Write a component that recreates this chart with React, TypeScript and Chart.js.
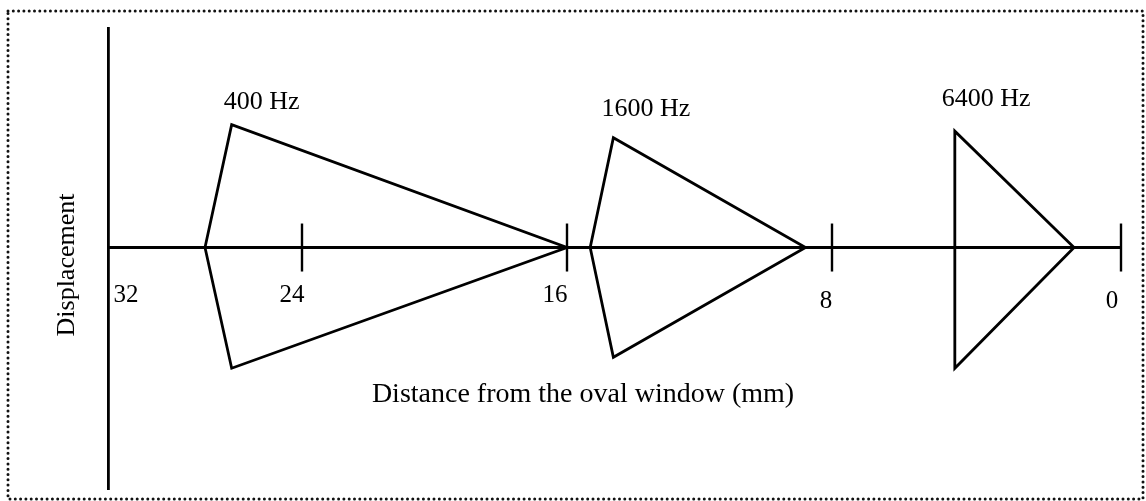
import React, { useEffect, useRef } from "react";
import { Chart, registerables, LinearScale } from "chart.js";

// ---------------- data ----------------
const X_TICK_VALUES = [32, 24, 16, 8, 0];
const X_TICK_LABELS = ["32", "24", "16", "8", "0"];
const X_TITLE = "Distance from the oval window (mm)";
const Y_TITLE = "Displacement";
const FREQ_LABELS = ["400 Hz", "1600 Hz", "6400 Hz"];

// envelope outline of each travelling wave: onset, upper peak, end, lower peak, onset
const WAVE_400_X = [28.0, 26.9, 16.0, 26.9, 28.0];
const WAVE_400_Y = [0, 0.56, 0, -0.55, 0];
const WAVE_1600_X = [15.3, 14.6, 8.8, 14.6, 15.3];
const WAVE_1600_Y = [0, 0.5, 0, -0.5, 0];
const WAVE_6400_X = [4.6, 4.6, 1.3, 4.6, 4.6];
const WAVE_6400_Y = [0, 0.53, 0, -0.55, 0];

// ---------------- layout / style ----------------
// the hand-drawn axis is not uniform: relative spacing between successive ticks
const AXIS_SEGMENT_WEIGHTS = [194, 265, 265, 289];
const TICK_LABEL_DX = [18, -10, -12, -6, -9];
const TICK_LABEL_DY = [54, 54, 54, 60, 60];
const FREQ_LABEL_NUDGE = [
  [-8, -16],
  [-12, -22],
  [-13, -25],
];
const FONT = '"Liberation Serif", "Times New Roman", serif';
const INK = "#000";
const LINE_W = 2.8;

class PiecewiseScale extends LinearScale {
  static id = "piecewise";

  valueToDecimal(v: number): number {
    const total = AXIS_SEGMENT_WEIGHTS.reduce((a, b) => a + b, 0);
    const n = X_TICK_VALUES.length;
    let acc = 0;
    for (let i = 0; i < n - 1; i++) {
      const a = X_TICK_VALUES[i];
      const b = X_TICK_VALUES[i + 1];
      const w = AXIS_SEGMENT_WEIGHTS[i];
      const inSeg = v <= a && v >= b;
      if (inSeg || (i === 0 && v > a) || (i === n - 2 && v < b)) {
        return (acc + ((a - v) / (a - b)) * w) / total;
      }
      acc += w;
    }
    return 0;
  }

  decimalToValue(d: number): number {
    const total = AXIS_SEGMENT_WEIGHTS.reduce((a, b) => a + b, 0);
    const n = X_TICK_VALUES.length;
    let acc = 0;
    const p = d * total;
    for (let i = 0; i < n - 1; i++) {
      const a = X_TICK_VALUES[i];
      const b = X_TICK_VALUES[i + 1];
      const w = AXIS_SEGMENT_WEIGHTS[i];
      if (p <= acc + w || i === n - 2) {
        return a - ((p - acc) / w) * (a - b);
      }
      acc += w;
    }
    return 0;
  }

  getPixelForValue(value: any) {
    if (value === null || value === undefined) return NaN;
    return (this as any).getPixelForDecimal(this.valueToDecimal(+value));
  }

  getValueForPixel(pixel: number) {
    return this.decimalToValue((this as any).getDecimalForPixel(pixel));
  }
}

Chart.register(...registerables);
Chart.register(PiecewiseScale as any);

const toPoints = (xs: number[], ys: number[]) => xs.map((x, i) => ({ x, y: ys[i] }));

const dottedFrame = {
  id: "dottedFrame",
  beforeDraw(chart: any) {
    const ctx = chart.ctx;
    ctx.save();
    ctx.fillStyle = "#fff";
    ctx.fillRect(0, 0, chart.width, chart.height);
    ctx.strokeStyle = "#111";
    ctx.lineWidth = 3;
    ctx.lineCap = "round";
    ctx.setLineDash([0, 5.3]);
    ctx.strokeRect(8, 11, chart.width - 8 - 3, chart.height - 11 - 2);
    ctx.restore();
  },
};

const distanceAxis = {
  id: "distanceAxis",
  afterDatasetsDraw(chart: any) {
    const ctx = chart.ctx;
    const xs = chart.scales.x;
    const ys = chart.scales.y;
    const area = chart.chartArea;
    const y0 = ys.getPixelForValue(0);
    ctx.save();
    ctx.strokeStyle = INK;
    ctx.fillStyle = INK;
    ctx.lineWidth = LINE_W;
    ctx.beginPath();
    ctx.moveTo(xs.getPixelForValue(X_TICK_VALUES[0]), y0);
    ctx.lineTo(xs.getPixelForValue(X_TICK_VALUES[X_TICK_VALUES.length - 1]), y0);
    ctx.stroke();

    ctx.lineWidth = 2.4;
    X_TICK_VALUES.forEach((v, i) => {
      const px = xs.getPixelForValue(v);
      if (i > 0) {
        ctx.beginPath();
        ctx.moveTo(px, y0 - 24);
        ctx.lineTo(px, y0 + 24);
        ctx.stroke();
      }
      ctx.font = `25px ${FONT}`;
      ctx.textAlign = "center";
      ctx.textBaseline = "alphabetic";
      ctx.fillText(X_TICK_LABELS[i], px + TICK_LABEL_DX[i], y0 + TICK_LABEL_DY[i]);
    });

    // frequency labels above each peak
    const waves = [
      [WAVE_400_X, WAVE_400_Y],
      [WAVE_1600_X, WAVE_1600_Y],
      [WAVE_6400_X, WAVE_6400_Y],
    ];
    ctx.font = `26px ${FONT}`;
    ctx.textAlign = "left";
    waves.forEach(([wx, wy], i) => {
      const px = xs.getPixelForValue(wx[1]);
      const py = ys.getPixelForValue(wy[1]);
      ctx.fillText(FREQ_LABELS[i], px + FREQ_LABEL_NUDGE[i][0], py + FREQ_LABEL_NUDGE[i][1]);
    });

    // axis title
    ctx.font = `28px ${FONT}`;
    ctx.textAlign = "center";
    ctx.fillText(X_TITLE, area.left + 475, y0 + 154);
    ctx.restore();
  },
};

export default function App() {
  const ref = useRef<HTMLCanvasElement | null>(null);

  useEffect(() => {
    if (!ref.current) return;
    const lineStyle = {
      borderColor: INK,
      borderWidth: LINE_W,
      pointRadius: 0,
      showLine: true,
      fill: false,
      tension: 0,
      clip: false as any,
    };
    const chart = new Chart(ref.current, {
      type: "scatter",
      data: {
        datasets: [
          { label: FREQ_LABELS[0], data: toPoints(WAVE_400_X, WAVE_400_Y), ...lineStyle },
          { label: FREQ_LABELS[1], data: toPoints(WAVE_1600_X, WAVE_1600_Y), ...lineStyle },
          { label: FREQ_LABELS[2], data: toPoints(WAVE_6400_X, WAVE_6400_Y), ...lineStyle },
        ],
      },
      options: {
        animation: false,
        responsive: false,
        maintainAspectRatio: false,
        layout: { padding: { left: 54, right: 25, top: 28, bottom: 12 } },
        plugins: {
          legend: { display: false },
          tooltip: { enabled: false },
          title: { display: false },
        },
        elements: { line: { borderJoinStyle: "miter" } },
        scales: {
          x: {
            type: "piecewise" as any,
            min: 0,
            max: 32,
            display: false,
          },
          y: {
            type: "linear",
            min: -1.1,
            max: 1.0,
            ticks: { display: false },
            grid: { display: true, drawOnChartArea: false, drawTicks: false },
            border: { display: true, color: INK, width: LINE_W },
            title: {
              display: true,
              text: Y_TITLE + "  ",
              color: INK,
              font: { family: FONT, size: 26, lineHeight: 1 },
              padding: { top: 0, bottom: 28 },
            },
          },
        },
      } as any,
      plugins: [dottedFrame, distanceAxis],
    });
    return () => chart.destroy();
  }, []);

  return (
    <div style={{ position: "absolute", left: 0, top: 0, width: 1146, height: 501, background: "#fff" }}>
      <canvas ref={ref} width={1146} height={501} style={{ display: "block" }} />
    </div>
  );
}
